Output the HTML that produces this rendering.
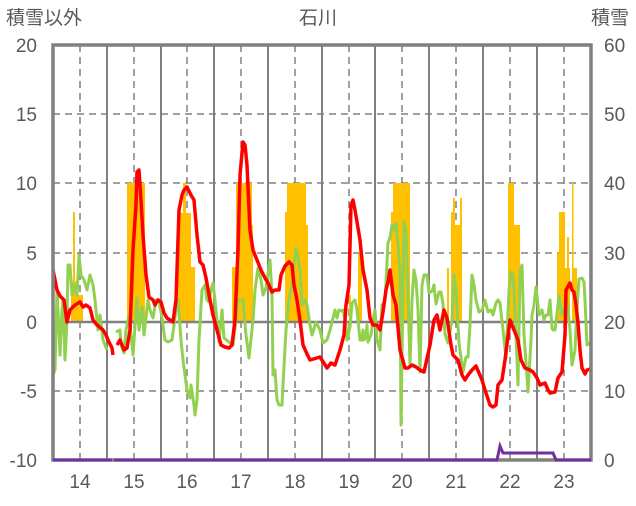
<!DOCTYPE html>
<html><head><meta charset="utf-8"><style>
body{margin:0;background:#fff;}
svg text{font-family:"Liberation Sans","Noto Sans CJK JP",sans-serif;fill:#595959;font-size:19px;}
</style></head><body>
<svg width="636" height="501" viewBox="0 0 636 501" xmlns="http://www.w3.org/2000/svg">
<rect width="636" height="501" fill="#fff"/>
<!-- horizontal grid -->
<g stroke="#808080" stroke-width="1.5" stroke-dasharray="7,5">
<line x1="53" x2="591" y1="114" y2="114"/>
<line x1="53" x2="591" y1="183" y2="183"/>
<line x1="53" x2="591" y1="253" y2="253"/>
<line x1="53" x2="591" y1="391" y2="391"/>
</g>
<!-- vertical dashed at year centers -->
<g stroke="#808080" stroke-width="1.5" stroke-dasharray="7,5">
<line x1="80" x2="80" y1="45" y2="460"/><line x1="134" x2="134" y1="45" y2="460"/>
<line x1="187" x2="187" y1="45" y2="460"/><line x1="241" x2="241" y1="45" y2="460"/>
<line x1="295" x2="295" y1="45" y2="460"/><line x1="349" x2="349" y1="45" y2="460"/>
<line x1="402" x2="402" y1="45" y2="460"/><line x1="456" x2="456" y1="45" y2="460"/>
<line x1="510" x2="510" y1="45" y2="460"/><line x1="564" x2="564" y1="45" y2="460"/>
</g>
<g stroke="#808080" stroke-width="2">
<line x1="107" x2="107" y1="45" y2="460"/><line x1="161" x2="161" y1="45" y2="460"/>
<line x1="214" x2="214" y1="45" y2="460"/><line x1="268" x2="268" y1="45" y2="460"/>
<line x1="322" x2="322" y1="45" y2="460"/><line x1="375" x2="375" y1="45" y2="460"/>
<line x1="429" x2="429" y1="45" y2="460"/><line x1="483" x2="483" y1="45" y2="460"/>
<line x1="537" x2="537" y1="45" y2="460"/>
</g>
<!-- snow bars -->
<g fill="#FFC000">
<rect x="73" y="212" width="2" height="110"/><rect x="71" y="281" width="6" height="41"/><rect x="77" y="295" width="6" height="27"/>
<rect x="127" y="183" width="18" height="139"/>
<rect x="178" y="213" width="13" height="109"/><rect x="183" y="183" width="3" height="139"/><rect x="189" y="267" width="6" height="55"/>
<rect x="232" y="267" width="4" height="55"/><rect x="236" y="183" width="16" height="139"/><rect x="249" y="225" width="4" height="97"/>
<rect x="287" y="183" width="19" height="139"/><rect x="285" y="212" width="5" height="110"/><rect x="306" y="225" width="2" height="97"/>
<rect x="358" y="253" width="4" height="69"/><rect x="349" y="295" width="2" height="27"/>
<rect x="393" y="183" width="17" height="139"/><rect x="391" y="212" width="3" height="110"/>
<rect x="447" y="268" width="2" height="54"/><rect x="453" y="198" width="2" height="124"/><rect x="455" y="225" width="7" height="97"/><rect x="460" y="198" width="2" height="124"/><rect x="451" y="212" width="2" height="110"/>
<rect x="508" y="183" width="6" height="139"/><rect x="514" y="225" width="6" height="97"/>
<rect x="557" y="253" width="3" height="69"/><rect x="559" y="212" width="6" height="110"/><rect x="565" y="268" width="5" height="54"/><rect x="567" y="237" width="2" height="85"/><rect x="572" y="183" width="1.5" height="139"/><rect x="572" y="268" width="5" height="54"/>
</g>
<!-- zero line -->
<line x1="53" x2="591" y1="322" y2="322" stroke="#808080" stroke-width="2.5"/>
<!-- green -->
<g fill="none" stroke="#92D050" stroke-width="3" stroke-linejoin="round">
<polyline points="53,375 55,370 57,290 58,310 60,355 62,310 63,300 65,360 67,320 68,265 70,265 72,295 74,285 77,295 79,255 81,275 84,280 87,290 90,275 93,285 95,300 98,330 100,315 103,340 107,350"/>
<polyline points="116,332 120,330 121,345 124,353 126,330 129,315 131,335 133,355 137,298 139,330 142,307 144,335 148,300 150,310 153,318 156,300 159,300 162,318 165,340 168,342 172,340 176,310 178,300 181,340 183,360 187,390 190,398 191,385 194,405 195,415 197,400 199,340 202,290 205,285 207,300 209,302 211,290 213,283 215,300 219,342 222,310 224,338 229,342 233,345 236,320 238,300 243,300 246,335 249,358 253,320 255,290 258,268 261,280 263,295 266,288 270,260 272,295 273,375 275,370 277,400 279,405 282,405 283,385 286,330 289,300 292,285 294,264 296,248 298,258 300,270 302,305 305,300 307,305 310,325 312,335 316,322 320,330 323,343 327,340 330,330 332,322 333,318 335,310 337,318 339,310 342,311 343,310 346,325 347,340 350,327 352,303 355,300 357,310 360,340 362,340 363,330 364,340 366,336 367,325 368,342 371,335 373,320 375,310 377,340 380,350 382,305 385,301 388,243 390,238 392,225 393,230 396,223 398,245 400,272 401,425 402,355 404,222 406,232 408,295 410,365 412,300 414,270 416,280 418,310 420,372 422,285 424,275 427,275 429,293 432,291 434,285 436,304 439,292 441,292 443,304 445,334 448,343 452,320 454,275 456,290 459,343 463,372 466,357 468,357 470,325 472,275 474,285 476,300 479,312 482,310 485,300 488,312 491,310 493,315 496,303 498,300 500,303 503,330 506,358 509,290 511,272 513,275 514,290 516,335 518,385 520,270 522,265 524,335 526,362 528,392 531,340 532,315 534,305 536,287 539,315 542,310 544,320 546,315 548,315 550,300 552,328 553,330 555,330 557,314 559,296 562,315 564,310 567,299 570,330 572,365 575,350 577,308 579,279 582,278 584,282 585,300 587,345 590,343"/>
</g>
<!-- red -->
<g fill="none" stroke="#FF0000" stroke-width="3.5" stroke-linejoin="round">
<polyline points="53,270 57,290 60,296 64,300 67,322 70,310 75,305 80,302 83,307 86,305 90,308 93,320 97,325 103,330 106,335 108,340 112,348 113,355"/>
<polyline points="117,345 120,340 122,345 124,350 127,348 130,330 133,250 136,205 137,172 139,170 141,200 143,235 146,275 149,297 153,300 155,305 158,300 161,302 164,313 167,318 170,320 173,322 176,300 179,210 182,195 184,190 187,187 191,195 194,200 197,235 200,262 203,265 206,278 210,300 213,315 217,330 221,345 225,347 229,348 232,345 235,320 238,250 240,175 243,142 245,145 247,165 250,230 253,250 257,260 261,270 265,278 268,283 272,292 275,290 279,290 281,275 285,266 289,262 292,265 294,285 297,300 300,320 303,345 307,354 310,360 320,357 327,368 331,363 335,365 340,350 344,335 346,305 349,285 351,205 353,200 355,210 358,228 360,240 363,270 367,290 370,318 373,325 377,325 380,330 383,312 386,290 388,282 390,270 393,295 396,305 400,350 405,368 408,368 412,365 416,367 420,370 424,372 430,345 434,320 437,315 440,330 444,310 447,318 451,345 453,355 458,360 462,375 465,380 468,375 472,370 476,366 479,373 482,380 485,390 490,405 493,407 496,405 498,385 502,380 505,360 510,320 514,330 518,340 521,360 525,368 530,370 533,372 537,378 540,385 545,383 548,390 550,393 555,392 558,378 562,372 565,335 566,290 570,283 572,290 574,292 576,305 578,323 580,350 582,368 585,374 587,370 590,369"/>
</g>
<!-- frame -->
<rect x="53" y="45" width="538" height="415" fill="none" stroke="#808080" stroke-width="3.5"/>
<!-- purple -->
<g fill="none" stroke="#7030A0" stroke-width="3">
<polyline points="53,460 112,460"/>
<polyline points="114,460 497,460 500,446 503,453 553,453 556,460 591,460"/>
</g>
<!-- labels -->
<text x="6" y="24">積雪以外</text>
<text x="318" y="24" text-anchor="middle">石川</text>
<text x="591" y="24">積雪</text>
<g text-anchor="end">
<text x="37" y="52">20</text><text x="37" y="121">15</text><text x="37" y="190">10</text>
<text x="37" y="260">5</text><text x="37" y="329">0</text><text x="37" y="398">-5</text><text x="37" y="467">-10</text>
</g>
<g>
<text x="604" y="52">60</text><text x="604" y="121">50</text><text x="604" y="190">40</text>
<text x="604" y="260">30</text><text x="604" y="329">20</text><text x="604" y="398">10</text><text x="604" y="467">0</text>
</g>
<g text-anchor="middle">
<text x="80" y="488">14</text><text x="134" y="488">15</text><text x="187" y="488">16</text><text x="241" y="488">17</text>
<text x="295" y="488">18</text><text x="349" y="488">19</text><text x="402" y="488">20</text><text x="456" y="488">21</text>
<text x="510" y="488">22</text><text x="564" y="488">23</text>
</g>
</svg>
</body></html>
